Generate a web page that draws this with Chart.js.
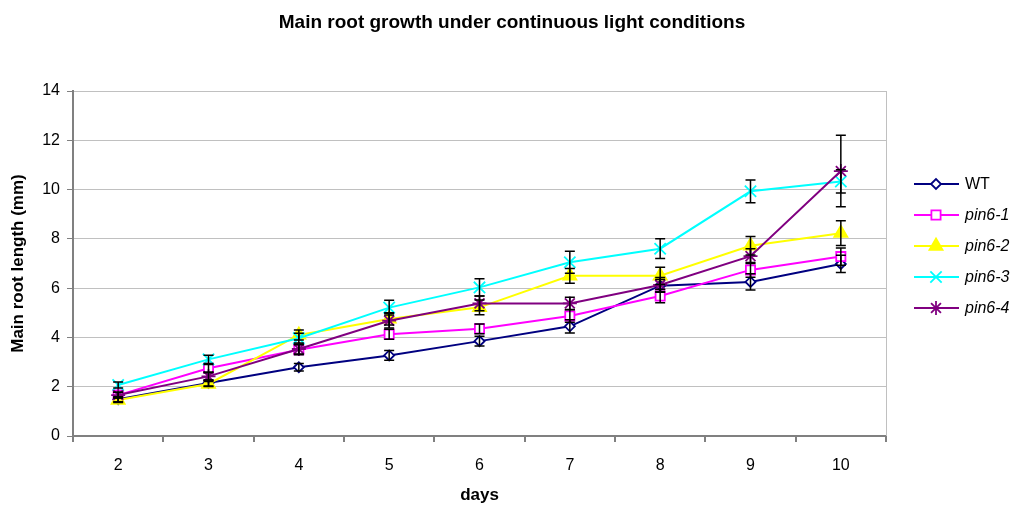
<!DOCTYPE html>
<html>
<head>
<meta charset="utf-8">
<script src="https://cdn.jsdelivr.net/npm/chart.js@4"></script>
<style>
  html, body { margin: 0; padding: 0; background: #fff; }
  #wrap { width: 1019px; height: 506px; }
</style>
</head>
<body>
<div id="wrap"><canvas id="chart" width="1019" height="506"></canvas></div>
<script>
// data
const days = ['2', '3', '4', '5', '6', '7', '8', '9', '10'];
const seriesNames = ['WT', 'pin6-1', 'pin6-2', 'pin6-3', 'pin6-4'];
const wtValues = [1.49, 2.15, 2.79, 3.27, 3.85, 4.45, 6.1, 6.25, 6.98];
const pin61Values = [1.66, 2.75, 3.5, 4.13, 4.35, 4.87, 5.68, 6.74, 7.28];
const pin62Values = [1.46, 2.11, 4.1, 4.75, 5.22, 6.5, 6.5, 7.72, 8.23];
const pin63Values = [2.07, 3.11, 3.97, 5.21, 6.03, 7.05, 7.6, 9.93, 10.33];
const pin64Values = [1.66, 2.42, 3.53, 4.68, 5.38, 5.38, 6.13, 7.3, 10.75];
const wtErrors = [0.1, 0.12, 0.15, 0.2, 0.2, 0.27, 0.25, 0.33, 0.35];
const pin61Errors = [0.12, 0.15, 0.2, 0.2, 0.2, 0.25, 0.27, 0.3, 0.35];
const pin62Errors = [0.1, 0.1, 0.2, 0.25, 0.3, 0.3, 0.35, 0.38, 0.5];
const pin63Errors = [0.12, 0.17, 0.2, 0.3, 0.35, 0.45, 0.4, 0.46, 0.47];
const pin64Errors = [0.12, 0.15, 0.2, 0.3, 0.3, 0.25, 0.3, 0.3, 1.45];
const chartTitle = 'Main root growth under continuous light conditions';

// styles
const FONT = 'Arial, "Liberation Sans", sans-serif';
Chart.defaults.font.family = FONT;
Chart.defaults.color = '#000';

function makeSeries(i, data, errors, color, pointStyle, radius, fill) {
  return {
    label: seriesNames[i],
    data: data,
    errors: errors,
    borderColor: color,
    backgroundColor: color,
    borderWidth: 2,
    pointStyle: pointStyle,
    pointRadius: radius,
    pointBorderColor: color,
    pointBackgroundColor: fill,
    pointBorderWidth: 1.8,
    tension: 0,
    order: 4 - i
  };
}

const datasets = [
  makeSeries(0, wtValues, wtErrors, '#000080', 'rectRot', 5, '#fff'),
  makeSeries(1, pin61Values, pin61Errors, '#ff00ff', 'rect', 6.5, '#fff'),
  makeSeries(2, pin62Values, pin62Errors, '#ffff00', 'triangle', 7.5, '#ffff00'),
  makeSeries(3, pin63Values, pin63Errors, '#00ffff', 'crossRot', 8, '#00ffff'),
  makeSeries(4, pin64Values, pin64Errors, '#800080', 'star', 7, '#800080')
];

// plugins
const errorBars = {
  id: 'errorBars',
  afterDatasetsDraw(chart) {
    const ctx = chart.ctx;
    const y = chart.scales.y;
    ctx.save();
    ctx.strokeStyle = '#000';
    ctx.lineWidth = 1.5;
    chart.data.datasets.forEach((ds, di) => {
      const meta = chart.getDatasetMeta(di);
      meta.data.forEach((pt, i) => {
        const e = ds.errors[i];
        const top = y.getPixelForValue(ds.data[i] + e);
        const bot = y.getPixelForValue(ds.data[i] - e);
        ctx.beginPath();
        ctx.moveTo(pt.x, top); ctx.lineTo(pt.x, bot);
        ctx.moveTo(pt.x - 5, top); ctx.lineTo(pt.x + 5, top);
        ctx.moveTo(pt.x - 5, bot); ctx.lineTo(pt.x + 5, bot);
        ctx.stroke();
      });
    });
    ctx.restore();
  }
};

const frame = {
  id: 'frame',
  beforeDatasetsDraw(chart) {
    const a = chart.chartArea;
    const ctx = chart.ctx;
    ctx.save();
    ctx.strokeStyle = '#c0c0c0';
    ctx.lineWidth = 1;
    ctx.beginPath();
    ctx.moveTo(a.right + 0.5, a.top);
    ctx.lineTo(a.right + 0.5, a.bottom);
    ctx.stroke();
    ctx.restore();
  }
};

const headline = {
  id: 'headline',
  afterDraw(chart) {
    const ctx = chart.ctx;
    ctx.save();
    ctx.fillStyle = '#000';
    ctx.font = 'bold 19px ' + FONT;
    ctx.textAlign = 'center';
    ctx.textBaseline = 'middle';
    ctx.fillText(chartTitle, 512, 23);
    ctx.restore();
  }
};

const sideLegend = {
  id: 'sideLegend',
  afterDraw(chart) {
    const ctx = chart.ctx;
    chart.data.datasets.forEach((ds, i) => {
      const yy = 184 + i * 31;
      ctx.save();
      ctx.strokeStyle = ds.borderColor;
      ctx.lineWidth = 2;
      ctx.beginPath();
      ctx.moveTo(914, yy); ctx.lineTo(959, yy);
      ctx.stroke();
      ctx.fillStyle = ds.pointBackgroundColor;
      ctx.strokeStyle = ds.pointBorderColor;
      ctx.lineWidth = ds.pointBorderWidth;
      Chart.helpers.drawPoint(ctx, {
        pointStyle: ds.pointStyle,
        radius: ds.pointRadius,
        borderWidth: ds.pointBorderWidth,
        rotation: 0
      }, 936, yy);
      ctx.fillStyle = '#000';
      ctx.textBaseline = 'middle';
      ctx.textAlign = 'left';
      ctx.font = (i === 0 ? '' : 'italic ') + '16px ' + FONT;
      ctx.fillText(ds.label, 965, yy + 1);
      ctx.restore();
    });
  }
};

new Chart(document.getElementById('chart'), {
  type: 'line',
  data: { labels: days, datasets: datasets },
  plugins: [frame, errorBars, headline, sideLegend],
  options: {
    responsive: false,
    animation: false,
    layout: { padding: { left: 0, right: 133, top: 91, bottom: 0 } },
    plugins: {
      legend: { display: false },
      tooltip: { enabled: false },
      title: { display: false }
    },
    scales: {
      x: {
        offset: true,
        grid: {
          offset: true,
          drawOnChartArea: false,
          drawTicks: true,
          tickLength: 6,
          tickColor: '#808080',
          lineWidth: 2
        },
        border: { color: '#808080', width: 2 },
        ticks: { font: { size: 16 }, color: '#000', padding: 14, maxRotation: 0 },
        title: {
          display: true,
          text: 'days',
          font: { size: 17, weight: 'bold' },
          color: '#000',
          padding: { top: 4, bottom: 0 }
        },
        afterFit(scale) { scale.height = 70; }
      },
      y: {
        min: 0,
        max: 14,
        ticks: { stepSize: 2, font: { size: 16 }, color: '#000', padding: 7 },
        grid: {
          color: '#c0c0c0',
          lineWidth: 1,
          tickLength: 6,
          tickColor: '#808080'
        },
        border: { color: '#808080', width: 2 },
        title: {
          display: true,
          text: 'Main root length (mm)',
          font: { size: 17, weight: 'bold' },
          color: '#000',
          padding: { top: 8, bottom: 0 }
        },
        afterFit(scale) { scale.width = 73; }
      }
    }
  }
});
</script>
</body>
</html>
